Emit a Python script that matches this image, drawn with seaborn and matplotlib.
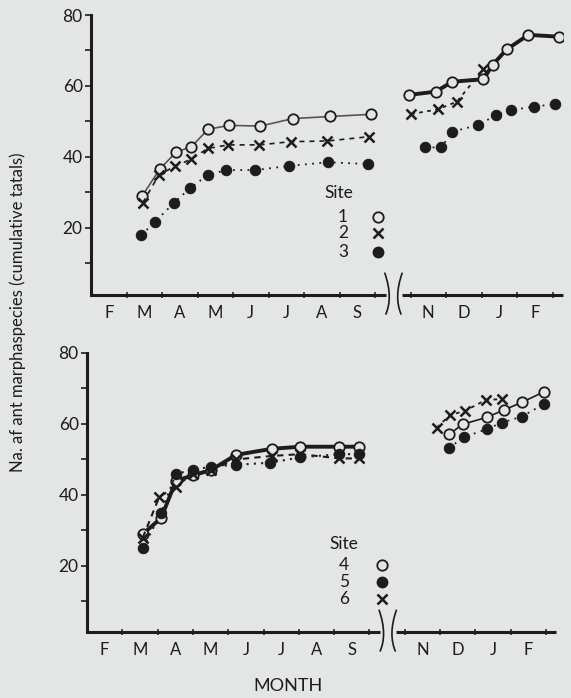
import matplotlib
matplotlib.use("Agg")
import matplotlib.pyplot as plt
import seaborn as sns
import numpy as np
import pandas as pd
from matplotlib.path import Path
from matplotlib.patches import PathPatch
import matplotlib.transforms as mtransforms

sns.set_theme(style="white")
plt.rcParams['font.family'] = ['Lato', 'DejaVu Sans']

# ---------------- data (x = months since 1 February) ----------------
month_labels = ["F", "M", "A", "M", "J", "J", "A", "S", "N", "D", "J", "F"]
month_centers = [0.5, 1.5, 2.5, 3.5, 4.5, 5.5, 6.5, 7.5, 9.5, 10.5, 11.5, 12.5]
month_edges = [1, 2, 3, 4, 5, 6, 7, 8, 9, 10, 11, 12, 13]

# Top panel, first year
s1_x_a = [1.44, 1.94, 2.39, 2.83, 3.30, 3.89, 4.77, 5.68, 6.72, 7.88]
s1_y_a = [29.0, 36.6, 41.3, 42.9, 47.8, 48.9, 48.7, 50.8, 51.4, 52.0]
s2_x_a = [1.46, 1.91, 2.38, 2.81, 3.29, 3.87, 4.74, 5.62, 6.66, 7.82]
s2_y_a = [27.1, 34.9, 37.5, 39.3, 42.4, 43.4, 43.4, 44.3, 44.5, 45.7]
s3_x_a = [1.42, 1.81, 2.33, 2.79, 3.29, 3.81, 4.63, 5.59, 6.68, 7.81]
s3_y_a = [18.0, 21.8, 27.0, 31.2, 34.9, 36.3, 36.3, 37.5, 38.5, 38.0]
# Top panel, second period
s1_x_b = [8.97, 9.71, 10.18, 11.05, 11.31, 11.71, 12.32, 13.17]
s1_y_b = [57.5, 58.4, 61.2, 61.9, 65.9, 70.3, 74.4, 73.9]
s2_x_b = [9.02, 9.77, 10.31, 11.05]
s2_y_b = [52.1, 53.4, 55.6, 64.7]
s3_x_b = [9.42, 9.87, 10.17, 10.91, 11.41, 11.83, 12.49, 13.08]
s3_y_b = [42.7, 42.7, 47.1, 49.0, 51.8, 53.2, 54.2, 54.9]

# Bottom panel, first year
s4_x_a = [1.58, 2.10, 2.52, 2.99, 3.51, 4.22, 5.23, 6.04, 7.15, 7.71]
s4_y_a = [29.0, 33.5, 44.0, 45.5, 47.0, 51.3, 53.0, 53.6, 53.6, 53.6]
s5_x_a = [1.58, 2.10, 2.52, 2.99, 3.51, 4.22, 5.19, 6.04, 7.15, 7.71]
s5_y_a = [25.0, 35.0, 46.0, 47.0, 48.0, 48.5, 49.1, 50.6, 51.5, 51.5]
s6_x_a = [1.58, 2.05, 2.52, 2.99, 3.51, 4.22, 5.23, 6.04, 7.15, 7.71]
s6_y_a = [28.0, 39.5, 42.3, 46.0, 47.0, 50.0, 51.0, 51.5, 50.3, 50.3]
# Bottom panel, second period
s4_x_b = [10.26, 10.64, 11.33, 11.80, 12.32, 12.95]
s4_y_b = [57.1, 59.9, 61.9, 63.9, 66.1, 69.1]
s5_x_b = [10.25, 10.69, 11.33, 11.76, 12.32, 12.94]
s5_y_b = [53.3, 56.3, 58.6, 60.4, 62.1, 65.6]
s6_x_b = [9.91, 10.28, 10.71, 11.30, 11.76]
s6_y_b = [59.0, 62.5, 63.7, 66.8, 67.0]

top_sites = ["1", "2", "3"]
bottom_sites = ["4", "5", "6"]

BG = "#e3e6e4"
INK = "#1c1c1c"

fig = plt.figure(figsize=(5.71, 6.98), dpi=100, facecolor=BG)
W, H = 571.0, 698.0

def make_ax(left_px, right_px, top_px, bottom_px):
    return fig.add_axes([left_px / W, 1 - bottom_px / H,
                         (right_px - left_px) / W, (bottom_px - top_px) / H])

ax_top = make_ax(91, 91 + 13.3 * 35.5, 15, 295)
ax_bot = make_ax(87, 87 + 13.3 * 35.3, 353, 632)

styles = {
    "circle": dict(marker="o", markerfacecolor=BG, markeredgecolor=INK, markersize=7.5,
                   markeredgewidth=1.3),
    "cross": dict(marker="x", markerfacecolor=INK, markeredgecolor=INK, markersize=7.5,
                  markeredgewidth=1.8),
    "dot": dict(marker="o", markerfacecolor=INK, markeredgecolor=INK, markersize=7.5),
}

def draw_series(ax, xs, ys, kind, ls, lw, color):
    df = pd.DataFrame({"x": xs, "y": ys})
    sns.lineplot(data=df, x="x", y="y", ax=ax, color=color, linestyle=ls, linewidth=lw,
                 sort=False, estimator=None, legend=False, **styles[kind], zorder=3)

# top panel
draw_series(ax_top, s1_x_a, s1_y_a, "circle", "-", 1.2, "#555555")
draw_series(ax_top, s2_x_a, s2_y_a, "cross", (0, (3, 3)), 1.2, INK)
draw_series(ax_top, s3_x_a, s3_y_a, "dot", (0, (1, 3)), 1.3, INK)
draw_series(ax_top, s1_x_b, s1_y_b, "circle", "-", 2.8, INK)
draw_series(ax_top, s2_x_b, s2_y_b, "cross", (0, (2, 2.5)), 1.3, INK)
draw_series(ax_top, s3_x_b, s3_y_b, "dot", (0, (1, 3)), 1.3, INK)
# bottom panel
draw_series(ax_bot, s4_x_a, s4_y_a, "circle", "-", 2.8, INK)
draw_series(ax_bot, s5_x_a, s5_y_a, "dot", (0, (1, 2.5)), 1.5, INK)
draw_series(ax_bot, s6_x_a, s6_y_a, "cross", (0, (3, 2.5)), 1.5, INK)
draw_series(ax_bot, s4_x_b, s4_y_b, "circle", "-", 1.2, INK)
draw_series(ax_bot, s5_x_b, s5_y_b, "dot", (0, (1, 3)), 1.3, INK)
draw_series(ax_bot, s6_x_b, s6_y_b, "cross", (0, (2, 2.5)), 1.3, INK)


def style_axis(ax, ybot):
    ax.set_facecolor(BG)
    ax.set_xlim(0, 13.3)
    ax.set_ylim(ybot, 80)
    for s in ["top", "right", "bottom"]:
        ax.spines[s].set_visible(False)
    ax.spines["left"].set_color(INK)
    ax.spines["left"].set_linewidth(2.2)
    ax.set_xlabel("")
    ax.set_ylabel("")
    ax.set_yticks([20, 40, 60, 80])
    ax.set_yticklabels(["20", "40", "60", "80"])
    ax.set_yticks([10, 30, 50, 70], minor=True)
    ax.tick_params(axis="y", which="both", direction="out", length=4, width=1.2,
                   color=INK, labelsize=12.5, labelcolor=INK, pad=2, left=True)
    ax.set_xticks(month_centers)
    ax.set_xticklabels(month_labels)
    ax.set_xticks(month_edges, minor=True)
    ax.tick_params(axis="x", which="major", length=0, labelsize=12, labelcolor=INK, pad=7)
    ax.tick_params(axis="x", which="minor", direction="inout", length=5, width=1.1,
                   color=INK, bottom=True)
    ax.grid(False)
    # x axis line, broken at October
    trans = mtransforms.blended_transform_factory(ax.transData, ax.transAxes)
    ax.plot([0, 8.3], [0, 0], color=INK, lw=2.2, transform=trans, clip_on=False,
            solid_capstyle="butt")
    ax.plot([8.75, 13.3], [0, 0], color=INK, lw=2.2, transform=trans, clip_on=False,
            solid_capstyle="butt")
    # break marks
    for xc, sgn in [(8.32, 1), (8.72, -1)]:
        verts = [(xc - 0.05 * sgn, 0.08), (xc + 0.12 * sgn, 0.02), (xc + 0.12 * sgn, -0.03),
                 (xc - 0.02 * sgn, -0.07)]
        p = Path(verts, [Path.MOVETO, Path.CURVE4, Path.CURVE4, Path.CURVE4])
        ax.add_patch(PathPatch(p, fill=False, edgecolor=INK, lw=1.2, transform=trans,
                               clip_on=False))


style_axis(ax_top, 1.1)
style_axis(ax_bot, 1.4)


def legend(ax, title, labels, kinds, x_title, y_title, x_num, x_sym, ys):
    ax.text(x_title, y_title, title, fontsize=12.5, color=INK, ha="center", va="center")
    for lab, kind, yy in zip(labels, kinds, ys):
        ax.text(x_num, yy, lab, fontsize=12.5, color=INK, ha="center", va="center")
        ax.plot([x_sym], [yy], linestyle="none", **styles[kind])


legend(ax_top, "Site", top_sites, ["circle", "cross", "dot"],
       6.98, 29.8, 7.1, 8.08, [23.0, 18.5, 13.3])
legend(ax_bot, "Site", bottom_sites, ["circle", "dot", "cross"],
       7.29, 26.3, 7.29, 8.36, [20.2, 15.5, 10.7])

fig.text(18 / W, 1 - 312 / H, "Na. af ant marphaspecies (cumulative tatals)",
         rotation=90, fontsize=12, color=INK, ha="center", va="center")
fig.text(288 / W, 1 - 686 / H, "MONTH", fontsize=13, color=INK, ha="center", va="center")

fig.savefig("out.png", dpi=100, facecolor=BG)
